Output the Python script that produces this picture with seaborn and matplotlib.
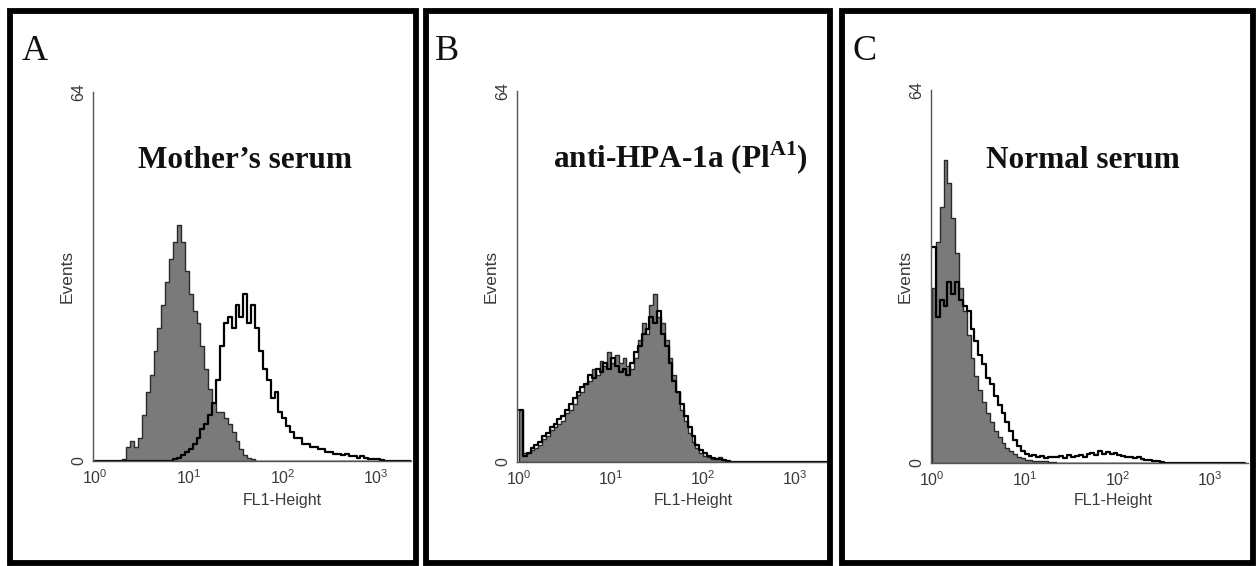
import numpy as np
import matplotlib
matplotlib.use("Agg")
import matplotlib.pyplot as plt
import matplotlib.patches as mpatches
from matplotlib.ticker import FixedLocator, NullFormatter, LogLocator
import seaborn as sns

# channel grid: 24 channels per decade, counts
CH_PER_DEC = 24

# panel A - Mother's serum
a_filled = [0]*7 + [0.3, 2.5, 3.5, 2.5, 4, 8, 12, 15, 19, 23, 27, 31, 35, 38, 41, 38, 33,
                    29, 26, 24, 20, 16, 12.5, 10, 8.5, 8.5, 7.5, 6.5, 5, 3.5, 2, 1, 0.5, 0.3] + [0]*40
a_open = [0]*20 + [0.3, 0.5, 1, 1.5, 2, 3, 4, 5.5, 6.5, 8, 10, 14, 20, 24, 25, 23, 27, 25,
                   29, 24, 27, 23, 19, 16, 14, 11, 12, 8.5, 7.5, 6, 5, 4, 4, 3, 3, 2.5, 2.5, 2,
                   2, 1.5, 1.5, 1.2, 1.2, 1, 1.2, 0.8, 0.8, 0.5, 0.8, 0.5, 0.4, 0.3, 0.3, 0.2] + [0]*7

# panel B - anti-HPA-1a
b_filled = [9, 1.5, 1.5, 2, 2.5, 3, 4, 4.5, 5.5, 6, 6.5, 7, 8.5, 9, 10, 11.5, 12, 13.5, 14,
            16, 15, 17.5, 16.5, 19, 17, 18.5, 17, 18, 16.5, 16, 18, 21, 24, 22, 27, 29, 25,
            24, 21, 18, 15, 12, 9, 7, 5, 3.5, 2.5, 1.5, 1, 0.8, 0.5, 0.5, 0.8, 0.3, 0.2] + [0]*26
b_open = [9, 1, 1.5, 2.5, 3, 3.5, 4.5, 5, 6, 6.5, 7.5, 8, 9, 10, 11, 12, 13, 13.5, 15, 14.5,
          16, 15.5, 17, 16, 18, 16.5, 15.5, 16, 15, 17, 19, 20, 22, 23, 25, 24, 26, 22, 20,
          17, 14, 12, 10, 8, 6, 4.5, 3, 2, 1.5, 1, 0.7, 0.5, 0.5, 0.3, 0.2] + [0]*26

# panel C - Normal serum
c_filled = [30, 38, 44, 52, 48, 42, 36, 30, 26, 22, 18, 15, 12.5, 10.5, 8.5, 7, 5.5, 4.5,
            3.5, 2.5, 2, 1.5, 1, 0.8, 0.6, 0.5, 0.4, 0.3, 0.3, 0.3, 0.2, 0.2] + [0]*49
c_open = [37, 25, 28, 27, 31, 29, 31, 28, 27, 26, 23, 21, 18.5, 17, 14.5, 13.5, 11.5, 10, 8.5,
          7, 5.5, 4, 3, 2, 1.5, 1.2, 1.3, 1, 1.2, 0.8, 1, 1.1, 1, 1.2, 0.9, 1.3, 1, 1.2, 1.4,
          1.1, 1.5, 1.8, 1.4, 2, 1.6, 1.9, 1.5, 1.8, 1.4, 1.2, 1, 1.1, 0.8, 1, 0.7, 0.6, 0.5,
          0.4, 0.3, 0.2] + [0]*21

titles = ["Mother\u2019s serum", "anti-HPA-1a (Pl$^{\\mathrm{A1}}$)", "Normal serum"]
letters = ["A", "B", "C"]

sns.set_style("white")
plt.rcParams["font.family"] = ["Liberation Sans", "DejaVu Sans"]
plt.rcParams["mathtext.fontset"] = "custom"
plt.rcParams["mathtext.rm"] = "Liberation Serif:bold"

W, H = 1256, 566
fig = plt.figure(figsize=(W / 100, H / 100), dpi=100)

def fx(x):
    return x / W

def fy(y):
    return 1 - y / H

# layout in pixels: frame box, axis origin, top of y axis, right end, px per decade
panels = [
    dict(frame=(10, 10.5, 415.5, 562.5), x0=93, y0=461, ytop=92, xr=411, dec=93.7, zero=95,
         title_x=245, letter_x=22, label_x=282),
    dict(frame=(426, 10.5, 830, 562.5), x0=517, y0=462, ytop=91, xr=827, dec=92.0, zero=519,
         title_x=680, letter_x=435, label_x=693),
    dict(frame=(842, 10.5, 1252.5, 562.5), x0=931, y0=463, ytop=90, xr=1248, dec=92.7, zero=932,
         title_x=1083, letter_x=853, label_x=1113),
]
data = [(a_filled, a_open), (b_filled, b_open), (c_filled, c_open)]

axis_col = "#555555"
text_col = "#3a3a3a"

for p, (filled, opened), title, letter in zip(panels, data, titles, letters):
    # frame around the panel
    l, t, r, b = p["frame"]
    fig.patches.append(mpatches.Rectangle((fx(l), fy(b)), fx(r - l), (b - t) / H,
                                          transform=fig.transFigure, fill=False,
                                          edgecolor="black", linewidth=4.2, zorder=5))
    ax = fig.add_axes([fx(p["x0"]), fy(p["y0"]), fx(p["xr"] - p["x0"]), (p["y0"] - p["ytop"]) / H])
    ax.patch.set_alpha(0)

    n = len(filled)
    centers = 10 ** ((np.arange(n) + 0.5) / CH_PER_DEC)
    sns.histplot(x=centers, weights=filled, log_scale=True, binwidth=1 / CH_PER_DEC,
                 binrange=(0, n / CH_PER_DEC), element="step", fill=True, color="#7a7a7a",
                 alpha=1, edgecolor="#2a2a2a", linewidth=1.0, ax=ax)
    sns.histplot(x=centers, weights=opened, log_scale=True, binwidth=1 / CH_PER_DEC,
                 binrange=(0, n / CH_PER_DEC), element="step", fill=False, color="black",
                 linewidth=1.6, ax=ax)

    lo = -(p["zero"] - p["x0"]) / p["dec"]
    hi = lo + (p["xr"] - p["x0"]) / p["dec"]
    ax.set_xlim(10 ** lo, 10 ** hi)
    ax.set_ylim(0, 64)
    ax.set_xlabel("")
    ax.set_ylabel("")
    for s in ["top", "right"]:
        ax.spines[s].set_visible(False)
    for s in ["left", "bottom"]:
        ax.spines[s].set_color(axis_col)
        ax.spines[s].set_linewidth(1.0)
    ax.xaxis.set_major_locator(FixedLocator([1, 10, 100, 1000]))
    ax.xaxis.set_minor_locator(LogLocator(base=10, subs=np.arange(2, 10)))
    ax.xaxis.set_minor_formatter(NullFormatter())
    ax.set_yticks([0, 64])
    ax.set_yticklabels(["0", "64"], rotation=90, va="center")
    ax.yaxis.set_minor_locator(FixedLocator([16, 32, 48]))
    ax.tick_params(axis="both", which="major", direction="out", length=3, width=0.9,
                   colors=axis_col, labelcolor=text_col, labelsize=11.5, pad=2)
    ax.tick_params(axis="both", which="minor", direction="out", length=1.5, width=0.6,
                   colors=axis_col)

    fig.text(fx(p["label_x"]), fy(500), "FL1-Height", ha="center", va="center",
             fontsize=11.5, color=text_col)
    fig.text(fx(p["x0"] - 26), fy((p["y0"] + p["ytop"]) / 2), "Events", rotation=90,
             ha="center", va="center", fontsize=12.5, color=text_col)
    fig.text(fx(p["title_x"]), fy(168), title, ha="center", va="baseline",
             fontsize=22.5, fontweight="bold", family="Liberation Serif", color="#111111")
    fig.text(fx(p["letter_x"]), fy(60), letter, ha="left", va="baseline",
             fontsize=26, family="Liberation Serif", color="#111111")

fig.savefig("out.png", dpi=100, facecolor="white")
